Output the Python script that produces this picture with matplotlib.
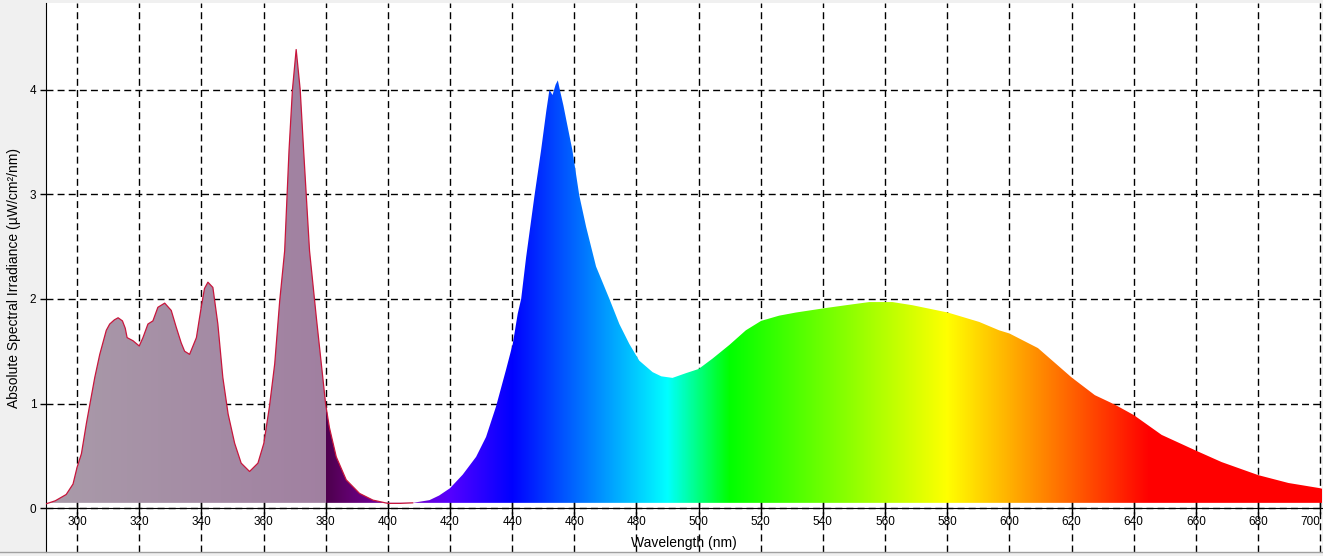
import numpy as np
import matplotlib.pyplot as plt
from matplotlib.lines import Line2D

plt.rcParams['font.family'] = ['Liberation Sans', 'DejaVu Sans']

# readings (nm, uW/cm2/nm)
wavelength = [
    290, 293, 296.5, 298.7, 300, 301.4, 303, 304.1, 305.7, 307.3,
    309.4, 310.5, 312, 313.2, 314.6, 315.5, 316.1, 318, 320, 321.2,
    322.8, 324.4, 326, 328.2, 330.3, 331.9, 333.5, 334.6, 336.2, 338.4,
    339.3, 340, 341, 342.1, 343.7, 345.3, 346.9, 348.6, 350.7, 352.8,
    355.5, 358.2, 360.1, 361.9, 363.6, 365.2, 366.8, 368.2, 369.3, 370.5,
    371.8, 372.9, 374.8, 377, 380, 381.2, 383.4, 386.6, 390.9, 395.2,
    400, 404, 408, 413.4, 416.5, 420, 424.1, 428.4, 431.6, 434.8,
    438, 440.2, 441.8, 442.9, 444.5, 447.2, 449.3, 451, 452, 453,
    454, 454.7, 455.5, 456.5, 457.5, 459.4, 461.6, 463.8, 467, 471.3,
    474.5, 477.7, 480.9, 485.2, 488, 491.6, 495.9, 500, 504.5, 509.9,
    515.2, 520.1, 525.9, 531.3, 540.2, 547.4, 554.9, 562.4, 568.8, 580.2,
    590.3, 596.7, 600, 609.2, 620, 627.5, 633.9, 640, 649, 660,
    668.3, 680.1, 689.8, 700, 700.6,
]
irradiance = [
    0.04, 0.07, 0.13, 0.23, 0.39, 0.52, 0.81, 0.99, 1.25, 1.47,
    1.70, 1.76, 1.80, 1.82, 1.79, 1.72, 1.63, 1.60, 1.55, 1.63,
    1.76, 1.79, 1.92, 1.96, 1.89, 1.73, 1.58, 1.50, 1.47, 1.63,
    1.80, 1.93, 2.10, 2.16, 2.11, 1.76, 1.25, 0.90, 0.62, 0.43,
    0.35, 0.43, 0.62, 0.97, 1.38, 1.98, 2.46, 3.42, 4.00, 4.385,
    4.00, 3.42, 2.46, 1.82, 0.99, 0.77, 0.49, 0.27, 0.14, 0.076,
    0.045, 0.045, 0.05, 0.076, 0.12, 0.19, 0.32, 0.49, 0.68, 0.97,
    1.32, 1.57, 1.86, 2.00, 2.40, 2.99, 3.42, 3.80, 4.00, 3.95,
    4.05, 4.09, 3.98, 3.85, 3.70, 3.42, 2.99, 2.69, 2.31, 2.00,
    1.76, 1.57, 1.41, 1.30, 1.26, 1.245, 1.29, 1.33, 1.43, 1.56,
    1.70, 1.79, 1.84, 1.87, 1.91, 1.94, 1.97, 1.97, 1.94, 1.87,
    1.78, 1.70, 1.67, 1.53, 1.25, 1.08, 0.99, 0.89, 0.70, 0.55,
    0.44, 0.315, 0.24, 0.19, 0.185,
]
x_ticks = list(range(300, 701, 20))
y_ticks = [0, 1, 2, 3, 4]
x_range = (290, 700.6)
y_range = (-0.42, 4.83)
baseline = 0.05


def spectrum_rgb(w):
    """colour of each wavelength, greyish mauve below 380 nm"""
    w = np.asarray(w, dtype=float)
    r = np.zeros_like(w)
    g = np.zeros_like(w)
    b = np.zeros_like(w)
    m = (w >= 380) & (w < 440)
    r[m] = (440 - w[m]) / 60
    b[m] = 1
    m = (w >= 440) & (w < 490)
    g[m] = (w[m] - 440) / 50
    b[m] = 1
    m = (w >= 490) & (w < 510)
    g[m] = 1
    b[m] = (510 - w[m]) / 20
    m = (w >= 510) & (w < 580)
    r[m] = (w[m] - 510) / 70
    g[m] = 1
    m = (w >= 580) & (w < 645)
    r[m] = 1
    g[m] = (645 - w[m]) / 65
    m = w >= 645
    r[m] = 1
    fac = np.ones_like(w)
    m = (w >= 380) & (w < 420)
    fac[m] = 0.3 + 0.7 * (w[m] - 380) / 40
    rgb = np.stack([r, g, b], axis=-1) * fac[:, None]
    uv = w < 380
    t = ((w[uv] - 290) / 90)[:, None]
    c0 = np.array([0.665, 0.610, 0.665])
    c1 = np.array([0.630, 0.500, 0.630])
    rgb[uv] = (1 - t) * c0 + t * c1
    return np.clip(rgb, 0, 1)


def main():
    fig = plt.figure(figsize=(13.23, 5.56), dpi=100, facecolor='#f0f0f0')
    ax = fig.add_axes([46 / 1323, 4 / 556, 1276 / 1323, 549 / 556])
    ax.set_facecolor('white')

    poly = ax.fill_between(wavelength, baseline, irradiance,
                           facecolor='none', edgecolor='none')
    cols = np.linspace(x_range[0], x_range[1], 2400)
    img = spectrum_rgb(cols)[None, :, :]
    im = ax.imshow(img, extent=[x_range[0], x_range[1], baseline, 4.6],
                   aspect='auto', origin='lower', interpolation='nearest',
                   zorder=2)
    im.set_clip_path(poly.get_paths()[0], transform=ax.transData)

    w = np.array(wavelength)
    v = np.array(irradiance)
    uv = w <= 412
    ax.plot(w[uv], v[uv], color='#c8163c', lw=0.9, zorder=3)

    ax.set_xlim(*x_range)
    ax.set_ylim(*y_range)
    ax.set_xticks(x_ticks)
    ax.set_yticks(y_ticks)
    ax.set_axisbelow(True)
    ax.grid(True, color='black', linestyle=(0, (5, 3)), linewidth=1)

    for s in ['top', 'right']:
        ax.spines[s].set_visible(False)
    ax.spines['bottom'].set_position(('data', 0))
    ax.spines['bottom'].set_zorder(4)
    ax.tick_params(axis='x', direction='inout', length=8, width=1, pad=2,
                   labelsize=8.5)
    ax.tick_params(axis='y', direction='out', length=4, width=1, pad=3,
                   labelsize=8.5)
    # last label sits inside the frame, like the original
    ax.get_xticklabels()[-1].set_horizontalalignment('right')

    ax.set_xlabel('Wavelength (nm)', fontsize=10)
    ax.xaxis.set_label_coords(0.5, 0.029)
    ax.set_ylabel('Absolute Spectral Irradiance (µW/cm²/nm)', fontsize=10)
    ax.yaxis.set_label_coords(-0.0196, 0.5)

    fig.add_artist(Line2D([0, 1], [4 / 556, 4 / 556], color='#a0a0a0',
                          lw=1, transform=fig.transFigure))

    fig.savefig('out.png', dpi=100, facecolor=fig.get_facecolor())


if __name__ == '__main__':
    main()
